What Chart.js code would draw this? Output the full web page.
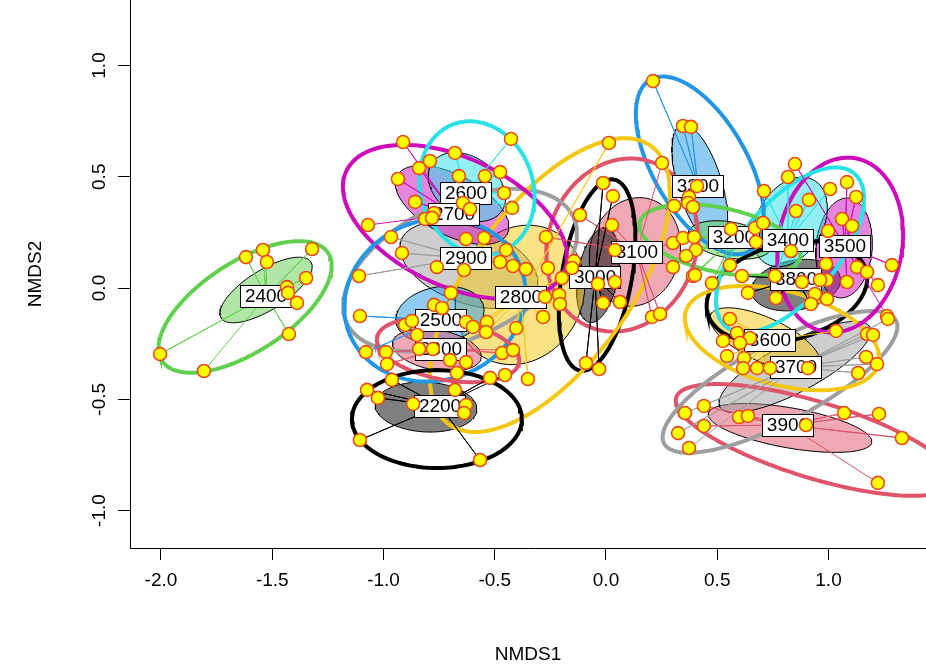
<!DOCTYPE html>
<html><head><meta charset="utf-8">
<script src="https://cdn.jsdelivr.net/npm/chart.js@4.4.0/dist/chart.umd.min.js"></script>
<style>html,body{margin:0;padding:0;overflow:hidden;background:#fff}</style>
</head><body>
<canvas id="c" width="926" height="666" style="display:block;width:926px;height:666px"></canvas>
<script>
// ---- data (NMDS scores) ----
const groups = ['2200','2300','2400','2500','2600','2700','2800','2900','3000','3100','3200','3300','3400','3500','3600','3700','3800','3900'];
const xTicks = [-2.0, -1.5, -1.0, -0.5, 0.0, 0.5, 1.0];
const yTicks = [-1.0, -0.5, 0.0, 0.5, 1.0];

const g2200 = [[-1.106,-0.683],[-0.566,-0.773],[-1.074,-0.458],[-1.025,-0.494],[-0.962,-0.413],[-0.867,-0.521],[-0.679,-0.458],[-0.629,-0.526],[-0.638,-0.562],[-0.521,-0.404],[-0.454,-0.391]];
const g2300 = [[-0.840,-0.274],[-0.778,-0.274],[-0.849,-0.211],[-0.989,-0.288],[-0.984,-0.342],[-0.701,-0.324],[-0.629,-0.333],[-0.670,-0.382],[-0.467,-0.292],[-0.418,-0.279]];
const g2400 = [[-1.618,0.139],[-1.542,0.171],[-1.524,0.117],[-1.321,0.175],[-1.348,0.045],[-1.434,0.004],[-1.429,-0.022],[-1.389,-0.067],[-1.425,-0.207],[-2.004,-0.297],[-1.807,-0.373]];
const g2500 = [[-0.773,-0.076],[-0.737,-0.090],[-0.697,-0.022],[-0.903,-0.166],[-0.872,-0.148],[-1.079,-0.288],[-1.106,-0.126],[-0.629,-0.153]];
const g2600 = [[-0.427,0.670],[-0.679,0.607],[-0.791,0.571],[-0.661,0.503],[-0.544,0.503],[-0.476,0.521],[-0.458,0.427],[-0.422,0.360],[-0.643,0.382],[-0.611,0.355]];
const g2700 = [[-0.912,0.656],[-0.840,0.539],[-0.935,0.490],[-0.858,0.387],[-0.773,0.337],[-0.813,0.310],[-0.782,0.315],[-1.070,0.283]];
const g2800 = [[0.013,0.652],[-0.274,-0.040],[-0.211,-0.031],[-0.207,-0.072],[-0.283,-0.130],[-0.404,-0.180],[-0.351,-0.409],[-0.535,-0.153],[-0.539,-0.198],[-0.598,-0.175],[-0.198,0.045],[-0.261,0.090]];
const g2900 = [[-1.110,0.054],[-0.966,0.229],[-0.917,0.157],[-0.760,0.094],[-0.638,0.081],[-0.629,0.220],[-0.548,0.225],[-0.449,0.171],[-0.476,0.117],[-0.418,0.099],[-0.360,0.085]];
const g3000 = [[-0.013,0.472],[0.031,0.413],[-0.036,0.018],[0.040,0.027],[-0.013,-0.067],[0.063,-0.063],[-0.090,-0.337],[-0.031,-0.364],[-0.144,0.121],[-0.153,0.090]];
const g3100 = [[0.027,0.283],[0.040,0.171],[-0.117,0.328],[-0.270,0.229],[0.207,-0.130],[0.243,-0.117],[0.301,0.094],[0.301,0.202],[0.252,0.562]];
const g3200 = [[0.346,0.225],[0.396,0.229],[0.404,0.171],[0.360,0.144],[0.391,0.054],[0.562,0.265],[0.670,0.270],[0.706,0.292],[0.674,0.207],[0.476,0.022],[0.400,0.058],[0.557,0.103]];
const g3300 = [[0.211,0.930],[0.346,0.728],[0.382,0.724],[0.409,0.458],[0.373,0.409],[0.369,0.382],[0.391,0.364],[0.306,0.369]];
const g3400 = [[0.818,0.499],[1.007,0.445],[0.912,0.396],[0.854,0.346],[0.710,0.436],[0.831,0.166],[0.760,0.054],[0.881,0.027]];
const g3500 = [[0.849,0.557],[1.083,0.476],[1.124,0.409],[1.061,0.310],[1.106,0.279],[0.998,0.256],[0.989,0.108],[1.128,0.094],[1.173,0.072],[1.285,0.103],[1.222,0.013],[1.083,0.027],[1.263,-0.126]];
const g3600 = [[0.557,-0.139],[0.526,-0.238],[0.589,-0.202],[0.647,-0.225],[0.602,-0.247],[0.544,-0.306],[0.620,-0.315],[0.616,-0.360],[0.679,-0.360],[1.034,-0.193]];
const g3700 = [[0.737,-0.360],[0.908,-0.360],[1.173,-0.207],[1.200,-0.211],[1.267,-0.139],[1.169,-0.310],[1.218,-0.342],[1.133,-0.382],[0.355,-0.562],[0.324,-0.652],[0.373,-0.719]];
const g3800 = [[0.611,0.054],[0.638,-0.022],[0.764,-0.045],[0.939,-0.027],[0.993,-0.049],[0.921,-0.072],[0.993,0.036],[0.962,0.036]];
const g3900 = [[0.440,-0.530],[0.440,-0.620],[0.598,-0.580],[0.638,-0.575],[0.899,-0.616],[1.070,-0.562],[1.227,-0.566],[1.330,-0.674],[1.222,-0.876]];

// group centroids (where the spiders meet and labels sit)
const centroids = [[-0.746,-0.530],[-0.742,-0.274],[-1.528,-0.036],[-0.742,-0.144],[-0.629,0.427],[-0.683,0.333],[-0.382,-0.040],[-0.629,0.135],[-0.049,0.049],[0.139,0.162],[0.575,0.229],[0.413,0.458],[0.818,0.216],[1.074,0.189],[0.737,-0.234],[0.854,-0.355],[0.854,0.040],[0.818,-0.616]];

// inner (filled) ellipses: centre x, centre y, semi-axis a, semi-axis b, angle (deg)
const innerEllipses = [[-0.809,-0.535,0.229,0.112,-3],[-0.760,-0.279,0.202,0.090,-10],[-1.528,-0.009,0.238,0.090,32],[-0.746,-0.121,0.200,0.126,10],[-0.625,0.454,0.190,0.135,-35],[-0.692,0.373,0.280,0.135,-28],[-0.387,-0.031,0.324,0.279,60],[-0.616,0.103,0.324,0.171,-20],[-0.036,0.058,0.216,0.090,80],[0.130,0.162,0.247,0.202,75],[0.557,0.216,0.190,0.081,-10],[0.422,0.463,0.283,0.099,-73],[0.827,0.297,0.216,0.148,60],[1.070,0.180,0.225,0.126,85],[0.715,-0.234,0.270,0.099,-25],[0.849,-0.355,0.382,0.112,28],[0.854,0.013,0.202,0.112,10],[0.827,-0.629,0.373,0.090,-10]];
// outer (enclosing) ellipses
const outerEllipses = [[-0.760,-0.589,0.382,0.220,0],[-0.710,-0.279,0.324,0.135,-10],[-1.622,-0.085,0.445,0.202,33],[-0.769,-0.054,0.413,0.360,20],[-0.580,0.449,0.306,0.252,-70],[-0.679,0.297,0.539,0.288,-25],[-0.252,0.013,0.773,0.360,54],[-0.656,0.081,0.562,0.306,25],[-0.040,0.058,0.436,0.157,80],[0.072,0.193,0.396,0.333,70],[0.512,0.216,0.369,0.144,-12],[0.422,0.551,0.445,0.211,-60],[0.827,0.171,0.449,0.216,50],[1.052,0.193,0.396,0.279,80],[0.791,-0.225,0.449,0.211,-15],[0.782,-0.422,0.590,0.178,28],[0.813,-0.018,0.369,0.216,15],[0.939,-0.683,0.652,0.171,-17]];

// ---- styling ----
const palette = ['#000000','#DF536B','#61D04F','#2297E6','#28E2E5','#CD0BBC','#F5C710','#9E9E9E'];
const groupPoints = [g2200,g2300,g2400,g2500,g2600,g2700,g2800,g2900,g3000,g3100,g3200,g3300,g3400,g3500,g3600,g3700,g3800,g3900];
const FONT = '"Liberation Sans", Arial, sans-serif';

function hexA(h, a) {
  const n = parseInt(h.slice(1), 16);
  return 'rgba(' + ((n >> 16) & 255) + ',' + ((n >> 8) & 255) + ',' + (n & 255) + ',' + a + ')';
}
function ellipseOutline(e) {
  const [cx, cy, a, b, ang] = e, t = ang * Math.PI / 180, out = [];
  for (let i = 0; i <= 120; i++) {
    const th = 2 * Math.PI * i / 120, u = a * Math.cos(th), v = b * Math.sin(th);
    out.push({x: cx + u * Math.cos(t) - v * Math.sin(t), y: cy + u * Math.sin(t) + v * Math.cos(t)});
  }
  return out;
}

const datasets = [];
const allPts = [];
groupPoints.forEach(g => g.forEach(p => allPts.push({x: p[0], y: p[1]})));
datasets.push({id: 'points', type: 'scatter', data: allPts, order: 0,
  pointRadius: 6.5, pointBackgroundColor: '#FFFF00', pointBorderColor: '#E8491D', pointBorderWidth: 1.6, showLine: false});

groups.forEach((g, i) => {
  const col = palette[i % palette.length];
  const c = centroids[i];
  const sp = [];
  groupPoints[i].forEach(p => { sp.push({x: c[0], y: c[1]}); sp.push({x: p[0], y: p[1]}); });
  datasets.push({type: 'line', data: sp, order: 1, borderColor: col, borderWidth: 1, pointRadius: 0, fill: false, tension: 0});
  datasets.push({type: 'line', data: ellipseOutline(outerEllipses[i]), order: 2, borderColor: col, borderWidth: 4, pointRadius: 0, fill: false, tension: 0});
  datasets.push({type: 'line', data: ellipseOutline(innerEllipses[i]), order: 3, borderColor: '#000000', borderWidth: 1, pointRadius: 0, fill: 'shape', backgroundColor: hexA(col, 0.5), tension: 0});
});

const labelPlugin = {
  id: 'grpLabels',
  beforeDatasetDraw(chart, args) {
    if (chart.data.datasets[args.index].id !== 'points') return;
    const ctx = chart.ctx, xs = chart.scales.x, ys = chart.scales.y, a = chart.chartArea;
    ctx.save();
    ctx.beginPath(); ctx.rect(a.left, a.top, a.right - a.left, a.bottom - a.top); ctx.clip();
    ctx.font = '19px ' + FONT; ctx.textAlign = 'center'; ctx.textBaseline = 'middle';
    groups.forEach((g, i) => {
      const px = xs.getPixelForValue(centroids[i][0]), py = ys.getPixelForValue(centroids[i][1]);
      const w = ctx.measureText(g).width + 9, h = 22;
      ctx.fillStyle = '#ffffff'; ctx.fillRect(px - w / 2, py - h / 2, w, h);
      ctx.strokeStyle = '#000000'; ctx.lineWidth = 1; ctx.strokeRect(Math.round(px - w / 2) + 0.5, Math.round(py - h / 2) + 0.5, Math.round(w), h);
      ctx.fillStyle = '#000000'; ctx.fillText(g, px, py + 1);
    });
    ctx.restore();
  }
};

const chart = new Chart(document.getElementById('c'), {
  type: 'scatter',
  data: {datasets},
  plugins: [labelPlugin],
  options: {
    responsive: false, animation: false, events: [],
    layout: {autoPadding: false, padding: {left: 0, right: 0, top: 0, bottom: 0}},
    plugins: {legend: {display: false}, tooltip: {enabled: false}},
    scales: {
      x: {type: 'linear', min: -2.1393, max: 1.4382,
        afterBuildTicks: s => { s.ticks = xTicks.map(v => ({value: v})); },
        afterFit: s => { s.height = 118; s.paddingLeft = 0; s.paddingRight = 0; },
        grid: {display: true, drawOnChartArea: false, drawTicks: true, tickLength: 12, tickColor: '#000', tickWidth: 1},
        border: {display: true, color: '#000', width: 1},
        ticks: {color: '#000', font: {family: FONT, size: 19}, padding: 9, maxRotation: 0, autoSkip: false, callback: v => v.toFixed(1)},
        title: {display: true, text: 'NMDS1', color: '#000', font: {family: FONT, size: 19}, padding: {top: 0, bottom: 0}}
      },
      y: {type: 'linear', min: -1.1685, max: 1.2944,
        afterBuildTicks: s => { s.ticks = yTicks.map(v => ({value: v})); },
        afterFit: s => { s.width = 130; s.paddingTop = 0; s.paddingBottom = 0; },
        grid: {display: true, drawOnChartArea: false, drawTicks: true, tickLength: 12, tickColor: '#000', tickWidth: 1},
        border: {display: true, color: '#000', width: 1},
        ticks: {color: '#000', font: {family: FONT, size: 19}, padding: 2, minRotation: 90, maxRotation: 90, crossAlign: 'center', autoSkip: false, callback: v => v.toFixed(1)},
        title: {display: true, text: 'NMDS2', color: '#000', font: {family: FONT, size: 19}, padding: {top: 24, bottom: 0}}
      }
    }
  }
});
</script>
</body></html>
